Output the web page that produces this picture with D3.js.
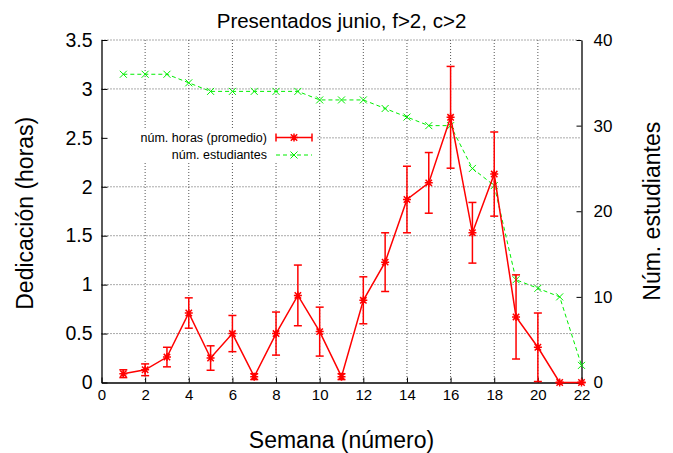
<!DOCTYPE html>
<html>
<head>
<meta charset="utf-8">
<script src="https://cdn.jsdelivr.net/npm/d3@7"></script>
<style>
  body { margin: 0; background: #fff; }
  svg { font-family: "Liberation Sans", Arial, Helvetica, sans-serif; }
</style>
</head>
<body>
<div id="chart"></div>
<script>
// data
var weeks = [1, 2, 3, 4, 5, 6, 7, 8, 9, 10, 11, 12, 13, 14, 15, 16, 17, 18, 19, 20, 21, 22];
var hours = [0.09, 0.13, 0.26, 0.71, 0.25, 0.50, 0.06, 0.50, 0.89, 0.52, 0.06,
             0.84, 1.23, 1.87, 2.04, 2.71, 1.53, 2.13, 0.67, 0.36, 0, 0];
var hoursErr = [0.04, 0.06, 0.10, 0.155, 0.125, 0.185, 0.03, 0.22, 0.31, 0.25, 0.03,
                0.24, 0.30, 0.34, 0.31, 0.52, 0.31, 0.43, 0.43, 0.35, 0, 0];
var students = [36, 36, 36, 35, 34, 34, 34, 34, 34, 33, 33, 33, 32, 31, 30, 30, 25, 23, 12, 11, 10, 2];

var weekTicks = [0, 2, 4, 6, 8, 10, 12, 14, 16, 18, 20, 22];
var hourTicks = [0, 0.5, 1, 1.5, 2, 2.5, 3, 3.5];
var studentTicks = [0, 10, 20, 30, 40];

var title = 'Presentados junio, f>2, c>2';
var legendLabels = ['núm. horas (promedio)', 'núm. estudiantes'];

var width = 673, height = 453;
var pLeft = 101.5, pRight = 581.5, pTop = 40, pBottom = 382.5;

var svg = d3.select('#chart').append('svg').attr('width', width).attr('height', height);

var x = d3.scaleLinear().domain([0, 22]).range([pLeft, pRight]);
var yL = d3.scaleLinear().domain([0, 3.5]).range([pBottom, pTop]);
var yR = d3.scaleLinear().domain([0, 40]).range([pBottom, pTop]);

// grid
var grid = svg.append('g').attr('stroke', '#555').attr('stroke-dasharray', '1,2').attr('stroke-width', 1);
grid.selectAll('line.v')
    .data(weekTicks.filter(function (d) { return d > 0 && d < 22; }))
    .enter().append('line')
    .attr('x1', function (d) { return x(d); }).attr('x2', function (d) { return x(d); })
    .attr('y1', pTop).attr('y2', pBottom);
grid.selectAll('line.h')
    .data(hourTicks.filter(function (d) { return d > 0; }))
    .enter().append('line')
    .attr('x1', pLeft).attr('x2', pRight)
    .attr('y1', function (d) { return yL(d); }).attr('y2', function (d) { return yL(d); });

// legend background
svg.append('rect').attr('x', pLeft + 1).attr('y', 129).attr('width', 214).attr('height', 34).attr('fill', '#fff');

// axes
var axL = svg.append('g').attr('transform', 'translate(' + pLeft + ',0)')
    .call(d3.axisLeft(yL).tickValues(hourTicks).tickFormat(function (d) { return String(d); })
        .tickSize(-6).tickSizeOuter(0).tickPadding(9));
axL.selectAll('text').attr('font-size', '19.5px');

var axR = svg.append('g').attr('transform', 'translate(' + pRight + ',0)')
    .call(d3.axisRight(yR).tickValues(studentTicks).tickFormat(function (d) { return String(d); })
        .tickSize(-5).tickSizeOuter(0).tickPadding(12));
axR.selectAll('text').attr('font-size', '17px');

var axB = svg.append('g').attr('transform', 'translate(0,' + pBottom + ')')
    .call(d3.axisBottom(x).tickValues(weekTicks).tickFormat(function (d) { return String(d); })
        .tickSize(-5).tickSizeOuter(0).tickPadding(7));
axB.selectAll('text').attr('font-size', '15px');

svg.selectAll('.domain').attr('stroke', '#000').attr('stroke-width', 1.3);
svg.selectAll('.tick line').attr('stroke', '#000');
svg.selectAll('.tick text').attr('fill', '#000');
svg.selectAll('g').attr('font-family', null);

// students (green, dashed, x markers)
var green = '#00ee00';
svg.append('path')
    .datum(weeks)
    .attr('fill', 'none').attr('stroke', green).attr('stroke-width', 1)
    .attr('stroke-dasharray', '4,3')
    .attr('d', d3.line().x(function (d) { return x(d); }).y(function (d, i) { return yR(students[i]); }));

var crossPath = 'M-3.5,-3.5L3.5,3.5M-3.5,3.5L3.5,-3.5';
svg.append('g').selectAll('path')
    .data(weeks)
    .enter().append('path')
    .attr('transform', function (d, i) { return 'translate(' + x(d) + ',' + yR(students[i]) + ')'; })
    .attr('d', crossPath)
    .attr('stroke', green).attr('stroke-width', 1).attr('fill', 'none');

// hours (red, error bars, star markers)
var red = '#ff0000';
svg.append('path')
    .datum(weeks)
    .attr('fill', 'none').attr('stroke', red).attr('stroke-width', 1.5)
    .attr('d', d3.line().x(function (d) { return x(d); }).y(function (d, i) { return yL(hours[i]); }));

var err = svg.append('g').attr('stroke', red).attr('stroke-width', 1.5);
weeks.forEach(function (d, i) {
    var cx = x(d), lo = yL(hours[i] - hoursErr[i]), hi = yL(hours[i] + hoursErr[i]);
    err.append('line').attr('x1', cx).attr('x2', cx).attr('y1', lo).attr('y2', hi);
    err.append('line').attr('x1', cx - 4).attr('x2', cx + 4).attr('y1', lo).attr('y2', lo);
    err.append('line').attr('x1', cx - 4).attr('x2', cx + 4).attr('y1', hi).attr('y2', hi);
});

var starPath = 'M-4,0L4,0M0,-4L0,4M-3.2,-3.2L3.2,3.2M-3.2,3.2L3.2,-3.2';
svg.append('g').selectAll('path')
    .data(weeks)
    .enter().append('path')
    .attr('transform', function (d, i) { return 'translate(' + x(d) + ',' + yL(hours[i]) + ')'; })
    .attr('d', starPath)
    .attr('stroke', red).attr('stroke-width', 1.5).attr('fill', 'none');

// legend
var legY = [137.5, 155];
var lg = svg.append('g');
lg.selectAll('text')
    .data(legendLabels)
    .enter().append('text')
    .attr('x', 267).attr('y', function (d, i) { return legY[i]; })
    .attr('dy', '0.35em').attr('text-anchor', 'end').attr('font-size', '12.5px')
    .text(function (d) { return d; });

lg.append('line').attr('x1', 276).attr('x2', 312).attr('y1', legY[0]).attr('y2', legY[0])
    .attr('stroke', red).attr('stroke-width', 1.5);
lg.append('line').attr('x1', 276).attr('x2', 276).attr('y1', legY[0] - 4).attr('y2', legY[0] + 4)
    .attr('stroke', red).attr('stroke-width', 1.5);
lg.append('line').attr('x1', 312).attr('x2', 312).attr('y1', legY[0] - 4).attr('y2', legY[0] + 4)
    .attr('stroke', red).attr('stroke-width', 1.5);
lg.append('path').attr('transform', 'translate(294,' + legY[0] + ')').attr('d', starPath)
    .attr('stroke', red).attr('stroke-width', 1.5).attr('fill', 'none');

lg.append('line').attr('x1', 276).attr('x2', 312).attr('y1', legY[1]).attr('y2', legY[1])
    .attr('stroke', green).attr('stroke-width', 1).attr('stroke-dasharray', '4,3');
lg.append('path').attr('transform', 'translate(294,' + legY[1] + ')').attr('d', crossPath)
    .attr('stroke', green).attr('stroke-width', 1).attr('fill', 'none');

// titles
svg.append('text').attr('x', (pLeft + pRight) / 2).attr('y', 28)
    .attr('text-anchor', 'middle').attr('font-size', '20.5px').text(title);

svg.append('text').attr('x', (pLeft + pRight) / 2).attr('y', 448)
    .attr('text-anchor', 'middle').attr('font-size', '23px').text('Semana (número)');

svg.append('text').attr('transform', 'translate(33,' + ((pTop + pBottom) / 2 + 2) + ') rotate(-90)')
    .attr('text-anchor', 'middle').attr('font-size', '23px').text('Dedicación (horas)');

svg.append('text').attr('transform', 'translate(660,' + ((pTop + pBottom) / 2) + ') rotate(-90)')
    .attr('text-anchor', 'middle').attr('font-size', '23px').text('Núm. estudiantes');
</script>
</body>
</html>
